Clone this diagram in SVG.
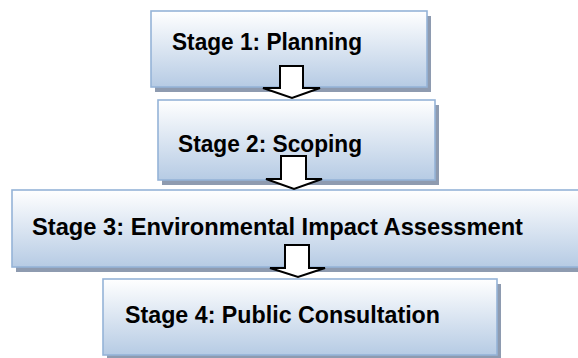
<svg xmlns="http://www.w3.org/2000/svg" width="578" height="358" viewBox="0 0 578 358">
<defs>
<linearGradient id="g" x1="0" y1="0" x2="0" y2="1">
<stop offset="0" stop-color="#ffffff"/>
<stop offset="1" stop-color="#b6cbe4"/>
</linearGradient>
</defs>
<style>
.shadow{fill:#8e9bb0}
.box{fill:url(#g);stroke:#95b3d7;stroke-width:1.6}
.lbl{font-family:"Liberation Sans",Arial,sans-serif;font-weight:bold;font-size:23px;fill:#000}
.arr{fill:#fff;stroke:#000;stroke-width:2;stroke-linejoin:miter}
</style>
<rect width="578" height="358" fill="#fff"/>
<g id="stage1">
<rect class="shadow" x="155" y="16" width="276" height="76"/>
<rect class="box" x="151" y="11" width="276" height="76"/>
<text class="lbl" x="172" y="50" textLength="190" lengthAdjust="spacingAndGlyphs">Stage 1: Planning</text>
</g>
<g id="stage2">
<rect class="shadow" x="162" y="105" width="277" height="80"/>
<rect class="box" x="158" y="100" width="277" height="80"/>
<text class="lbl" x="178" y="152" textLength="184" lengthAdjust="spacingAndGlyphs">Stage 2: Scoping</text>
</g>
<g id="stage3">
<rect class="shadow" x="16" y="195" width="600" height="77"/>
<rect class="box" x="12" y="190" width="600" height="77"/>
<text class="lbl" x="32" y="235" textLength="491" lengthAdjust="spacingAndGlyphs">Stage 3: Environmental Impact Assessment</text>
</g>
<g id="stage4">
<rect class="shadow" x="107" y="284" width="394" height="76"/>
<rect class="box" x="103" y="279" width="394" height="76"/>
<text class="lbl" x="125" y="323" textLength="315" lengthAdjust="spacingAndGlyphs">Stage 4: Public Consultation</text>
</g>
<g id="connectors">
<polygon class="arr" points="280,66 303,66 303,88 320,88 292,98 263,88 280,88"/>
<polygon class="arr" points="281,156 306,156 306,179 322,179 294,189 266,179 281,179"/>
<polygon class="arr" points="285,245 309,245 309,268 325,268 298,277 270,268 285,268"/>
</g>
</svg>
